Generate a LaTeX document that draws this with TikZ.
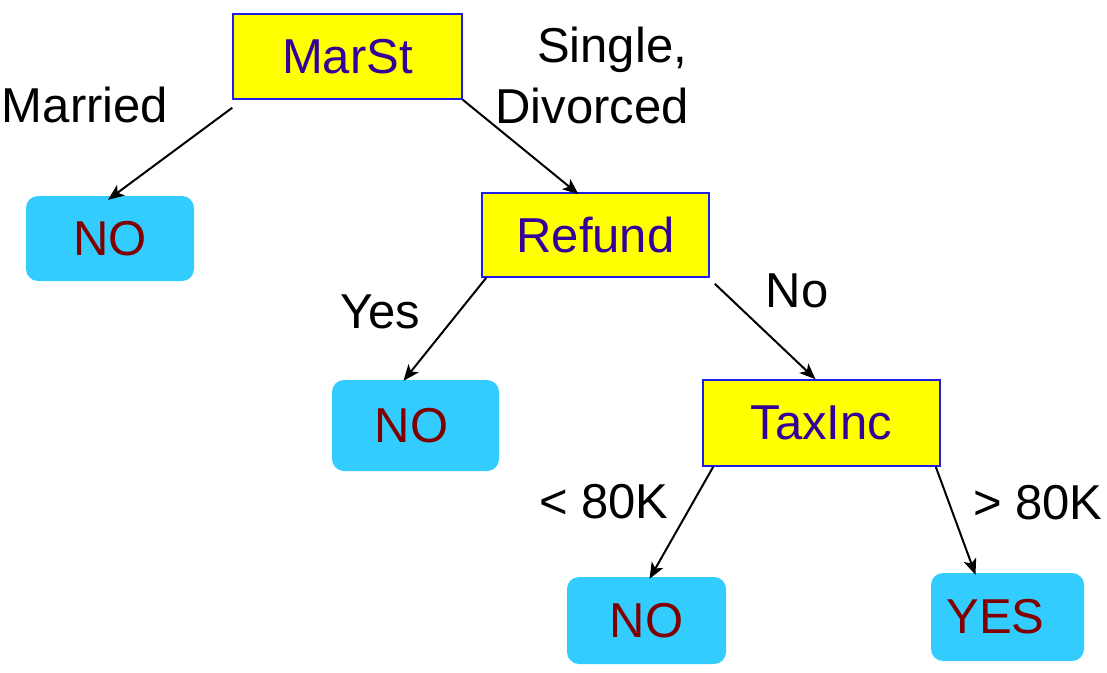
\documentclass[tikz,border=0pt]{standalone}
\usepackage{fontspec}
\setmainfont{Liberation Sans}
\usetikzlibrary{arrows.meta}
\definecolor{boxyellow}{RGB}{255,255,0}
\definecolor{boxblue}{RGB}{30,30,230}
\definecolor{leafcyan}{RGB}{51,204,255}
\definecolor{decink}{RGB}{51,0,153}
\definecolor{leafink}{RGB}{128,0,0}
\tikzset{
  decision/.style={draw=boxblue, line width=1.5pt, fill=boxyellow, text=decink, inner sep=0pt, font=\fontsize{49}{55}\selectfont},
  leaf/.style={fill=leafcyan, rounded corners=12pt, text=leafink, inner sep=0pt, font=\fontsize{49}{55}\selectfont},
  lbl/.style={text=black, inner sep=0pt, font=\fontsize{49}{55}\selectfont, align=center},
  edge/.style={line width=2pt, -{Stealth[length=16pt, width=13pt, inset=4pt]}}
}
\begin{document}
\begin{tikzpicture}[x=1pt,y=-1pt]
\fill[white] (0,0) rectangle (1107,672);
\useasboundingbox (0,0) rectangle (1107,672);

\node[decision, minimum width=229pt, minimum height=85pt] (marst) at (347.5,56.5) {MarSt};
\node[leaf, minimum width=168pt, minimum height=85pt] (no1) at (110,238.5) {NO};
\node[decision, minimum width=227pt, minimum height=84pt] (refund) at (595.5,235) {Refund};
\node[leaf, minimum width=167pt, minimum height=91pt] (no2) at (415.5,425.5) {\hspace*{-8pt}NO};
\node[decision, minimum width=237pt, minimum height=86pt] (taxinc) at (821.5,423) {TaxInc};
\node[leaf, minimum width=159pt, minimum height=87pt] (no3) at (646.5,620.5) {NO};
\node[leaf, minimum width=153pt, minimum height=88pt] (yes) at (1007.5,617) {\hspace*{-24pt}YES};

\draw[edge] ([yshift=-8pt]marst.south west) -- ([xshift=-2pt,yshift=-4pt]no1.north);
\draw[edge] (marst.south east) -- ([xshift=-17pt,yshift=-2pt]refund.north);
\draw[edge] ([xshift=5pt]refund.south west) -- ([xshift=-12pt,yshift=-1pt]no2.north);
\draw[edge] ([xshift=5pt,yshift=-6pt]refund.south east) -- ([xshift=-6pt]taxinc.north);
\draw[edge] ([xshift=11pt]taxinc.south west) -- ([xshift=3pt,yshift=-2pt]no3.north);
\draw[edge] ([xshift=-5pt]taxinc.south east) -- ([xshift=-32pt,yshift=-2pt]yes.north);

\node[lbl] (lmarried) at (85,105) {Married};
\node[lbl] (lsingle) at (612,50) {Single,};
\node[lbl] (ldivorced) at (592,106) {Divorced};
\node[lbl] (lyes) at (380,312) {Yes};
\node[lbl] (lno) at (797,291) {No};
\node[lbl] (llt) at (604,502) {< 80K};
\node[lbl] (lgt) at (1038,503) {> 80K};
\end{tikzpicture}
\end{document}
